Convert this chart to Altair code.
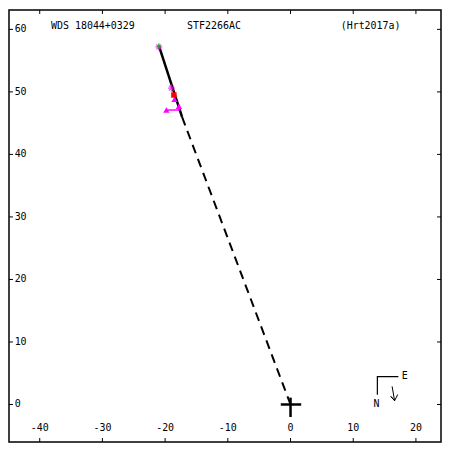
import altair as alt
import pandas as pd

# axis ticks
x_ticks = [-40, -30, -20, -10, 0, 10, 20]
y_ticks = [0, 10, 20, 30, 40, 50, 60]
x_domain = [-44.9, 24.0]
y_domain = [-6.0, 63.1]

# orbit / measures
solid_x = [-21.0, -17.3]
solid_y = [57.4, 46.0]
dash_x = [-17.3, 0.0]
dash_y = [46.0, 0.0]
star_x = [-21.0, -19.0]
star_y = [57.2, 50.6]
green_x = [-21.0]
green_y = [57.3]
red_x = [-18.6]
red_y = [49.5]
tri_x = [-18.5, -17.8, -19.8]
tri_y = [48.8, 47.7, 47.1]
mline_x = [-19.8, -17.6]
mline_y = [47.1, 47.1]

# origin cross
cross_h_x = [-1.55, 1.7]
cross_h_y = [0.0, 0.0]
cross_v_x = [0.0, 0.0]
cross_v_y = [1.1, -2.0]

# compass
comp_x = [17.2, 13.85, 13.85]
comp_y = [4.46, 4.46, 1.54]
arrow_x = [16.2, 16.6, 16.0, 16.6, 17.1]
arrow_y = [2.9, 0.6, 1.3, 0.6, 1.6]
comp_lab = ["E", "N"]
comp_lab_x = [18.2, 13.7]
comp_lab_y = [4.6, 0.0]

titles = ["WDS 18044+0329", "STF2266AC", "(Hrt2017a)"]
titles_x = [-38.2, -16.5, 8.0]
titles_y = [60.5, 60.5, 60.5]

W = H = 434
FONT = "DejaVu Sans Mono"

X = lambda f="x": alt.X(f"{f}:Q", scale=alt.Scale(domain=x_domain, nice=False, zero=False), axis=None)
Y = lambda f="y": alt.Y(f"{f}:Q", scale=alt.Scale(domain=y_domain, nice=False, zero=False), axis=None)

def df(xs, ys, **kw):
    d = pd.DataFrame({"x": xs, "y": ys})
    for k, v in kw.items():
        d[k] = v
    d["o"] = range(len(d))
    return d

xt = pd.DataFrame({"x": x_ticks, "lab": [str(v) for v in x_ticks], "y": [-3.7] * len(x_ticks)})
yt = pd.DataFrame({"y": y_ticks, "lab": [str(v) for v in y_ticks], "x": [-44.0] * len(y_ticks)})

top_ticks = alt.Chart(xt).mark_rule(color="black").encode(x=X(), y=alt.value(0), y2=alt.value(4))
bot_ticks = alt.Chart(xt).mark_rule(color="black").encode(x=X(), y=alt.value(H - 4), y2=alt.value(H))
left_ticks = alt.Chart(yt).mark_rule(color="black").encode(y=Y(), x=alt.value(0), x2=alt.value(4))
right_ticks = alt.Chart(yt).mark_rule(color="black").encode(y=Y(), x=alt.value(W - 4), x2=alt.value(W))

x_labels = alt.Chart(xt).mark_text(font=FONT, fontSize=10, color="black", align="center", baseline="middle").encode(
    x=X(), y=Y(), text="lab:N")
y_labels = alt.Chart(yt).mark_text(font=FONT, fontSize=10, color="black", align="left", baseline="middle").encode(
    x=X(), y=Y(), text="lab:N")

tdf = pd.DataFrame({"x": titles_x, "y": titles_y, "t": titles})
title_text = alt.Chart(tdf).mark_text(font=FONT, fontSize=10, color="black", align="left", baseline="middle").encode(
    x=X(), y=Y(), text="t:N")

def line(xs, ys, color="black", width=2, dash=None):
    kw = dict(color=color, strokeWidth=width)
    if dash:
        kw["strokeDash"] = dash
    return alt.Chart(df(xs, ys)).mark_line(**kw).encode(x=X(), y=Y(), order="o:Q")

solid = line(solid_x, solid_y, width=2.5)
dashed = line(dash_x, dash_y, width=2, dash=[9, 6])
mline = line(mline_x, mline_y, color="#ff00ff", width=1.5)
ch = line(cross_h_x, cross_h_y, width=2.5)
cv = line(cross_v_x, cross_v_y, width=2.5)
comp = line(comp_x, comp_y, width=1.2)
arrow = line(arrow_x, arrow_y, width=1)

ast_path = "M-1,0L1,0M0,-1L0,1M-0.7,-0.7L0.7,0.7M-0.7,0.7L0.7,-0.7"
stars = alt.Chart(df(star_x, star_y)).mark_point(shape=ast_path, color="#ff00ff", filled=False, size=50, strokeWidth=1.2).encode(x=X(), y=Y())
green = alt.Chart(df(green_x, green_y)).mark_point(shape="cross", color="#00cc00", filled=True, size=20).encode(x=X(), y=Y())
red = alt.Chart(df(red_x, red_y)).mark_point(shape="square", color="#ff0000", filled=True, size=30, opacity=1).encode(x=X(), y=Y())
tris = alt.Chart(df(tri_x, tri_y)).mark_point(shape="triangle-up", color="#ff00ff", filled=True, size=40, opacity=1).encode(x=X(), y=Y())

cl = pd.DataFrame({"x": comp_lab_x, "y": comp_lab_y, "t": comp_lab})
comp_text = alt.Chart(cl).mark_text(font=FONT, fontSize=10, color="black", align="center", baseline="middle").encode(
    x=X(), y=Y(), text="t:N")

chart = alt.layer(
    top_ticks, bot_ticks, left_ticks, right_ticks, x_labels, y_labels, title_text,
    dashed, solid, mline, tris, red, stars, green, ch, cv, comp, arrow, comp_text
).properties(width=W, height=H, padding=0, background="white").configure_view(stroke="black", strokeWidth=1.5)

chart.save("out.html", embed_options={"renderer": "svg", "actions": False})
